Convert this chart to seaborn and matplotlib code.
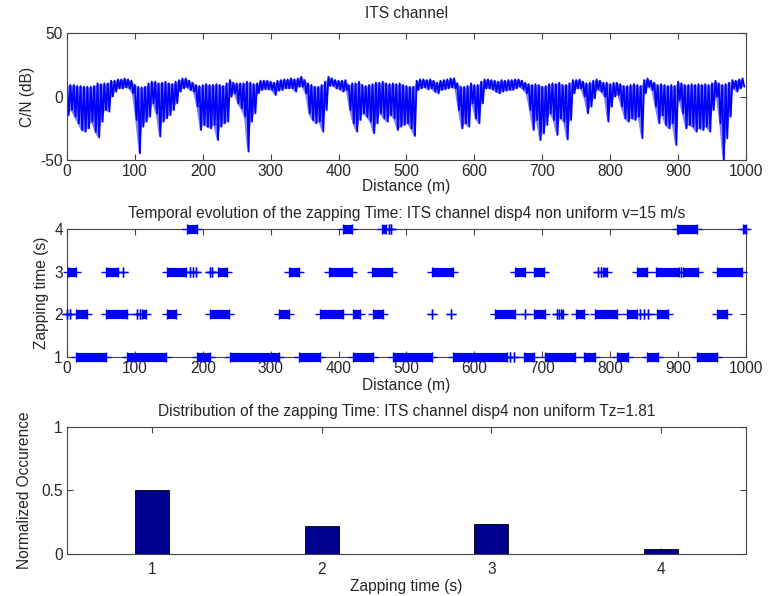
import numpy as np
import pandas as pd
import matplotlib
matplotlib.use("Agg")
import matplotlib.pyplot as plt
import seaborn as sns

sns.set_theme(style="white")
plt.rcParams['font.family'] = ['Liberation Sans', 'DejaVu Sans']
plt.rcParams['axes.unicode_minus'] = False

# ---------------- Data ----------------
# Top panel: C/N envelope read every 5 m (upper and lower edge of the noisy trace)
cn_step_m = 5
cn_upper_db = [
    9.1, 9.1, 9.1, 8.3, 8.3, 7.7, 7.7, 7.7, 8.3, 10.4,
    9.8, 10.4, 10.4, 12.5, 12.5, 13.5, 13.5, 14.3, 13.5, 12.5,
    9.1, 7.7, 7.2, 7.7, 10.4, 11.7, 11.7, 10.4, 10.9, 11.7,
    10.4, 9.8, 11.7, 13.0, 14.3, 14.3, 12.5, 10.9, 9.1, 8.3,
    9.1, 9.8, 9.1, 9.1, 9.8, 9.1, 8.3, 10.4, 13.0, 10.9,
    10.4, 10.4, 10.4, 11.7, 10.9, 9.8, 10.4, 12.5, 12.5, 12.5,
    11.7, 10.9, 12.5, 13.0, 13.5, 13.5, 14.3, 13.5, 14.3, 15.6,
    13.0, 10.4, 9.1, 7.7, 7.7, 9.1, 11.7, 15.6, 14.3, 13.0,
    12.5, 12.5, 13.0, 9.1, 10.4, 10.4, 11.7, 9.1, 8.3, 9.1,
    9.8, 10.9, 10.9, 11.7, 10.4, 9.8, 10.4, 9.8, 10.4, 9.1,
    8.3, 7.7, 7.7, 12.5, 13.5, 13.5, 13.0, 13.5, 12.5, 10.9,
    12.5, 13.0, 13.5, 14.3, 14.3, 10.4, 7.7, 7.7, 8.3, 10.4,
    9.1, 9.1, 11.7, 13.5, 13.5, 13.0, 12.5, 11.7, 13.0, 12.5,
    13.0, 13.0, 13.5, 13.5, 12.5, 10.9, 9.8, 9.1, 9.8, 9.1,
    7.7, 8.3, 9.8, 10.4, 9.8, 10.9, 9.1, 9.1, 10.4, 13.0,
    13.0, 13.5, 11.7, 10.4, 10.9, 12.5, 13.5, 12.5, 10.9, 10.9,
    9.8, 10.9, 10.9, 9.8, 8.3, 8.3, 9.1, 9.8, 9.1, 8.3,
    13.0, 14.3, 12.5, 10.9, 9.1, 9.8, 9.1, 8.3, 9.1, 8.3,
    11.7, 10.4, 9.1, 9.1, 9.8, 9.1, 9.8, 9.1, 9.8, 9.1,
    10.4, 12.5, 10.4, 9.1, 9.8, 10.9, 13.0, 12.5, 13.5, 14.3,
]
cn_lower_db = [
    -14.6, -10.6, -15.9, -21.1, -26.4, -27.7, -25.1, -19.8, -27.7, -32.2,
    -19.8, -10.6, -11.9, -0.1, 3.8, 6.4, 6.4, 7.2, 6.4, 2.5,
    -18.5, -44.8, -23.8, -19.8, -15.9, -5.4, -13.3, -31.6, -19.8, -17.2,
    -14.6, -10.6, -5.4, 3.8, 6.4, 7.2, 5.1, 3.8, -8.0, -26.4,
    -22.4, -23.8, -25.1, -22.4, -34.3, -23.8, -21.1, -19.8, -0.1, 2.5,
    -5.4, -9.3, -15.9, -43.4, -19.8, -13.3, 2.5, 5.1, 5.6, 5.6,
    5.1, 1.2, 4.6, 5.1, 6.4, 6.4, 6.4, 3.8, 7.7, 7.7,
    2.5, -13.3, -18.5, -21.1, -19.8, -27.7, -10.6, 8.3, 8.3, 6.4,
    5.6, 3.8, 5.1, -10.6, -21.1, -27.7, -18.5, -13.3, -15.9, -19.8,
    -29.0, -21.1, -13.3, -17.2, -19.8, -14.6, -17.2, -26.4, -23.8, -22.4,
    -21.1, -25.1, -31.1, 5.1, 6.4, 7.2, 5.6, 6.4, 3.8, 2.5,
    5.1, 5.6, 6.4, 7.2, 6.4, -10.6, -25.1, -21.1, -23.8, -5.4,
    -17.2, -21.1, -5.4, 6.4, 6.4, 5.6, 3.8, 2.5, 3.8, 4.6,
    5.1, 5.1, 6.4, 7.7, 5.6, 2.5, -10.6, -26.4, -18.5, -34.3,
    -29.0, -22.4, -13.3, -18.5, -30.3, -17.2, -19.8, -33.7, -18.5, 2.5,
    6.4, 6.4, -0.1, -13.3, -8.0, -1.4, 5.6, 3.8, -0.1, -19.8,
    -8.0, -0.1, 1.2, -8.0, -17.2, -19.8, -17.2, -18.5, -15.9, -32.9,
    2.5, 7.7, 5.1, -8.0, -21.1, -14.6, -22.4, -25.1, -21.1, -38.2,
    -2.8, -13.3, -25.1, -22.4, -23.8, -27.7, -25.1, -26.4, -23.8, -27.7,
    -10.6, -0.1, -21.1, -50.0, -32.9, -15.9, 6.4, 3.8, 6.4, 7.7,
]

# Middle panel: distance intervals (m) where the zapping time equals each level
zap_levels = [1, 2, 3, 4]
zap_start = {
    1: [14, 89, 192, 240, 342, 421, 480, 568, 653, 658, 673, 704, 762, 810, 854, 928],
    2: [0, 5, 14, 57, 103, 107, 110, 148, 211, 312, 372, 421, 450, 537, 566, 630, 674,
        688, 721, 725, 728, 749, 777, 825, 844, 850, 856, 869, 958],
    3: [1, 57, 83, 147, 181, 186, 190, 210, 214, 223, 327, 386, 449, 537, 660, 688, 782,
        787, 790, 840, 868, 905, 907, 957],
    4: [177, 406, 464, 474, 477, 899, 995],
}
zap_end = {
    1: [57, 146, 210, 313, 372, 450, 537, 648, 653, 658, 688, 748, 777, 826, 870, 958],
    2: [0, 5, 29, 88, 103, 107, 116, 160, 239, 327, 406, 432, 465, 537, 566, 660, 674,
        704, 721, 725, 730, 762, 810, 840, 844, 850, 856, 885, 972],
    3: [13, 75, 83, 176, 181, 186, 190, 210, 214, 235, 342, 420, 478, 568, 674, 703, 782,
        787, 796, 854, 902, 905, 929, 994],
    4: [192, 420, 470, 474, 477, 928, 1000],
}

# Bottom panel: distribution of zapping time
zap_time_s = [1, 2, 3, 4]
norm_occurrence = [0.505, 0.22, 0.235, 0.04]

# ---------------- Figure ----------------
fig = plt.figure(figsize=(7.76, 5.96), dpi=100)
L, W = 0.0863, 0.875
ax1 = fig.add_axes([L, 0.7315, W, 0.2131])
ax2 = fig.add_axes([L, 0.401, W, 0.2148])
ax3 = fig.add_axes([L, 0.0705, W, 0.2131])

FS = 11.2
spine_col = '#444444'

def style(ax, pad=3):
    for s in ax.spines.values():
        s.set_visible(True)
        s.set_color(spine_col)
        s.set_linewidth(0.8)
    ax.tick_params(direction='in', length=4, width=0.8, color=spine_col,
                   top=True, right=True, bottom=True, left=True,
                   labelsize=FS, pad=pad)
    ax.grid(False)

# Top: C/N trace (zig-zag between read envelope values)
dist = np.arange(len(cn_upper_db)) * cn_step_m
ax1.fill_between(dist, cn_upper_db, cn_lower_db, color='#0000ff', alpha=0.5,
                 linewidth=0, zorder=1)
xs = np.empty(2 * len(dist))
ys = np.empty(2 * len(dist))
xs[0::2] = dist
xs[1::2] = dist + cn_step_m / 2
ys[0::2] = cn_upper_db
ys[1::2] = cn_lower_db
df1 = pd.DataFrame({'d': xs, 'cn': ys})
sns.lineplot(data=df1, x='d', y='cn', ax=ax1, color='#0000ff', lw=1.3,
             estimator=None, sort=False, zorder=2)
ax1.set_xlim(0, 1000)
ax1.set_ylim(-50, 50)
ax1.set_xticks(range(0, 1001, 100))
ax1.set_yticks([-50, 0, 50])
ax1.set_title('ITS channel', fontsize=FS, pad=11)
ax1.set_xlabel('Distance (m)', fontsize=FS, labelpad=0)
ax1.set_ylabel('C/N (dB)', fontsize=FS, labelpad=4)
style(ax1)

# Middle: zapping time along distance
rows = []
for lv in zap_levels:
    for s, e in zip(zap_start[lv], zap_end[lv]):
        ax2.hlines(lv, s, e, colors='#0000ff', linewidth=6.6, clip_on=False, zorder=3)
        rows.append({'d': s, 'z': lv})
        rows.append({'d': e, 'z': lv})
df2 = pd.DataFrame(rows)
sns.scatterplot(data=df2, x='d', y='z', ax=ax2, marker='+', s=46, color='#0000ff',
                linewidth=1.0, clip_on=False, zorder=4)
ax2.set_xlim(0, 1000)
ax2.set_ylim(1, 4)
ax2.set_xticks(range(0, 1001, 100))
ax2.set_yticks([1, 2, 3, 4])
ax2.set_title('Temporal evolution of the zapping Time: ITS channel disp4 non uniform v=15 m/s',
              fontsize=FS, pad=8)
ax2.set_xlabel('Distance (m)', fontsize=FS, labelpad=1)
ax2.set_ylabel('Zapping time (s)', fontsize=FS, labelpad=4)
style(ax2)

# Bottom: distribution bars
df3 = pd.DataFrame({'t': zap_time_s, 'occ': norm_occurrence})
sns.barplot(data=df3, x='t', y='occ', ax=ax3, native_scale=True, width=0.2,
            color='#00008f', saturation=1, edgecolor='black', linewidth=0.6)
ax3.set_xlim(0.5, 4.5)
ax3.set_ylim(0, 1)
ax3.set_xticks(zap_time_s)
ax3.set_yticks([0, 0.5, 1])
ax3.set_yticklabels(['0', '0.5', '1'])
ax3.set_title('Distribution of the zapping Time: ITS channel disp4 non uniform Tz=1.81',
              fontsize=FS, pad=8)
ax3.set_xlabel('Zapping time (s)', fontsize=FS, labelpad=1)
ax3.set_ylabel('Normalized Occurence', fontsize=FS, labelpad=7)
style(ax3)
ax3.tick_params(axis='x', pad=6)

fig.savefig('out.png', dpi=100)
